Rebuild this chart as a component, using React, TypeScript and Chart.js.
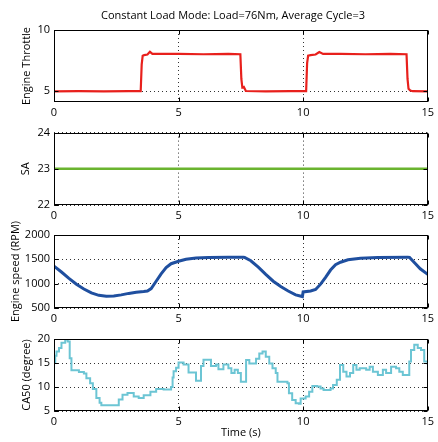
import React, { useEffect, useRef } from "react";
import { Chart, registerables } from "chart.js";

Chart.register(...registerables);

const FONT = "'Open Sans', 'DejaVu Sans', sans-serif";

// ---------------- data ----------------
const xTicks = [0, 5, 10, 15];

const throttleTime = [0, 1.0, 2.0, 3.0, 3.48, 3.52, 3.56, 3.62, 3.75, 3.85, 3.95, 4.2, 5.0, 6.0, 7.0, 7.48, 7.52, 7.56, 7.62, 7.7, 8.5, 9.5, 10.12, 10.16, 10.2, 10.3, 10.5, 10.65, 10.8, 11.5, 12.5, 13.5, 14.15, 14.19, 14.23, 14.3, 14.4, 15];
const throttle = [4.98, 5.0, 4.98, 5.0, 5.0, 7.2, 7.9, 7.95, 8.0, 8.22, 8.05, 8.05, 8.05, 8.02, 8.05, 8.02, 6.0, 5.3, 5.35, 5.02, 4.98, 5.0, 5.0, 7.3, 7.9, 7.95, 8.0, 8.2, 8.05, 8.05, 8.02, 8.05, 8.02, 6.0, 5.2, 5.05, 5.0, 4.98];
const throttleTicks = [5, 10];

const saTime = [0, 5, 10, 15];
const sa = [23, 23, 23, 23];
const saTicks = [22, 23, 24];

const rpmTime = [0, 0.3, 0.6, 0.9, 1.2, 1.5, 1.8, 2.1, 2.4, 2.7, 3.0, 3.3, 3.6, 3.75, 3.9, 4.1, 4.3, 4.5, 4.7, 5.0, 5.3, 5.7, 6.2, 7.0, 7.6, 7.65, 7.9, 8.2, 8.5, 8.8, 9.1, 9.4, 9.7, 9.97, 10.0, 10.3, 10.5, 10.7, 10.9, 11.1, 11.3, 11.5, 11.8, 12.3, 13.0, 14.2, 14.27, 14.5, 14.7, 15];
const rpm = [1360, 1240, 1110, 990, 890, 810, 760, 740, 745, 770, 800, 825, 840, 850, 900, 1050, 1200, 1330, 1410, 1460, 1500, 1525, 1540, 1545, 1545, 1540, 1470, 1340, 1190, 1050, 940, 850, 770, 735, 830, 850, 880, 990, 1130, 1280, 1390, 1440, 1490, 1520, 1540, 1545, 1540, 1415, 1305, 1190];
const rpmTicks = [500, 1000, 1500, 2000];

const caTime = [0, 0.05, 0.1, 0.2, 0.3, 0.45, 0.55, 0.63, 0.7, 1.0, 1.2, 1.3, 1.45, 1.56, 1.7, 1.83, 1.9, 2.6, 2.75, 2.95, 3.2, 3.4, 3.6, 3.87, 4.1, 4.4, 4.7, 4.76, 4.8, 4.9, 5.0, 5.2, 5.4, 5.7, 5.9, 6.0, 6.3, 6.5, 6.6, 6.8, 7.0, 7.12, 7.25, 7.38, 7.5, 7.71, 7.84, 8.11, 8.24, 8.37, 8.5, 8.64, 8.77, 8.9, 8.97, 9.37, 9.43, 9.56, 9.7, 9.83, 9.9, 10.1, 10.24, 10.37, 10.56, 10.7, 10.82, 11.1, 11.2, 11.35, 11.48, 11.61, 11.74, 11.88, 12.01, 12.14, 12.27, 12.53, 12.67, 12.8, 13.0, 13.2, 13.33, 13.53, 13.73, 13.86, 14.0, 14.26, 14.33, 14.46, 14.6, 14.73, 14.86, 15.0];
const ca50 = [15.1, 16.5, 17.4, 18.1, 19.2, 19.9, 19.5, 16.0, 13.5, 13.1, 12.8, 11.8, 10.8, 9.6, 7.7, 6.7, 6.2, 7.4, 8.4, 8.75, 8.0, 7.7, 8.3, 9.0, 9.6, 9.5, 10.0, 12.0, 13.3, 14.0, 15.1, 14.7, 13.0, 11.3, 14.4, 15.7, 14.4, 14.7, 13.7, 14.7, 13.9, 12.9, 13.6, 12.9, 11.1, 15.6, 14.9, 15.9, 17.0, 17.4, 16.3, 14.9, 13.9, 12.9, 11.1, 10.8, 8.7, 7.3, 6.6, 6.5, 7.6, 8.0, 9.0, 10.2, 10.1, 9.7, 9.4, 9.7, 10.4, 11.5, 14.6, 13.2, 12.2, 12.9, 14.6, 13.6, 13.9, 13.6, 14.2, 13.2, 12.5, 13.6, 12.9, 14.2, 13.9, 13.2, 12.5, 15.3, 17.7, 18.8, 18.1, 17.7, 15.3, 14.6];
const caTicks = [5, 10, 15, 20];

const chartTitle = "Constant Load Mode: Load=76Nm, Average Cycle=3";

// ---------------- helpers ----------------
const toPoints = (xs: number[], ys: number[]) => xs.map((x, i) => ({ x, y: ys[i] }));

const boxPlugin = {
  id: "matlabBox",
  afterDraw(chart: any) {
    const { ctx, chartArea: a, scales } = chart;
    const l = Math.round(a.left) + 0.5;
    const t = Math.round(a.top) + 0.5;
    const r = Math.round(a.right) - 0.5;
    const b = Math.round(a.bottom) - 0.5;
    ctx.save();
    ctx.setLineDash([]);
    ctx.strokeStyle = "#000";
    ctx.lineWidth = 1;
    ctx.strokeRect(l, t, r - l, b - t);
    ctx.beginPath();
    for (const tk of scales.x.ticks) {
      const px = Math.round(scales.x.getPixelForValue(tk.value)) + 0.5;
      ctx.moveTo(px, b);
      ctx.lineTo(px, b - 4);
      ctx.moveTo(px, t);
      ctx.lineTo(px, t + 4);
    }
    for (const tk of scales.y.ticks) {
      const py = Math.round(scales.y.getPixelForValue(tk.value)) + 0.5;
      ctx.moveTo(l, py);
      ctx.lineTo(l + 4, py);
      ctx.moveTo(r, py);
      ctx.lineTo(r - 4, py);
    }
    ctx.stroke();
    ctx.restore();
  },
};

type PanelCfg = {
  top: number;
  height: number;
  padTop: number;
  padLeft: number;
  yWidth: number;
  xHeight: number;
  yMin: number;
  yMax: number;
  yTicks: number[];
  yTitle: string;
  yTitlePad: number;
  xTitle?: string;
  title?: string;
  data: { x: number; y: number }[];
  color: string;
  width: number;
  stepped?: any;
};

function Panel({ cfg }: { cfg: PanelCfg }) {
  const ref = useRef<HTMLCanvasElement | null>(null);
  useEffect(() => {
    if (!ref.current) return;
    const font = { family: FONT, size: 11 };
    const chart = new Chart(ref.current, {
      type: "line",
      data: {
        datasets: [
          {
            data: cfg.data,
            borderColor: cfg.color,
            borderWidth: cfg.width,
            pointRadius: 0,
            tension: 0,
            stepped: cfg.stepped || false,
            fill: false,
          },
        ],
      },
      options: {
        animation: false,
        responsive: false,
        devicePixelRatio: 1,
        layout: { padding: { top: cfg.padTop, left: cfg.padLeft, right: 6, bottom: 0 } },
        plugins: {
          legend: { display: false },
          tooltip: { enabled: false },
          title: cfg.title
            ? {
                display: true,
                text: cfg.title,
                color: "#000",
                font: { family: FONT, size: 11, weight: "normal" },
                padding: { top: 9.4, bottom: 7.4 },
              }
            : { display: false },
        },
        scales: {
          x: {
            type: "linear",
            min: 0,
            max: 15,
            afterBuildTicks: (s: any) => {
              s.ticks = xTicks.map((v) => ({ value: v }));
            },
            afterFit: (s: any) => {
              s.height = cfg.xHeight;
            },
            grid: { color: "#333", lineWidth: 1, drawTicks: false },
            border: { display: false, dash: [1, 3] },
            ticks: { color: "#000", font, padding: 4, maxRotation: 0, autoSkip: false, callback: (v: any) => String(v) },
            title: cfg.xTitle
              ? { display: true, text: cfg.xTitle, color: "#000", font, padding: { top: 0, bottom: 2.4 } }
              : { display: false },
          },
          y: {
            type: "linear",
            min: cfg.yMin,
            max: cfg.yMax,
            afterBuildTicks: (s: any) => {
              s.ticks = cfg.yTicks.map((v) => ({ value: v }));
            },
            afterFit: (s: any) => {
              s.width = cfg.yWidth;
            },
            grid: { color: "#333", lineWidth: 1, drawTicks: false },
            border: { display: false, dash: [1, 3] },
            ticks: { color: "#000", font, padding: 4, callback: (v: any) => String(v) },
            title: { display: true, text: cfg.yTitle, color: "#000", font, padding: { top: cfg.yTitlePad, bottom: 0 } },
          },
        },
      },
      plugins: [boxPlugin],
    } as any);
    return () => chart.destroy();
  }, [cfg]);
  return (
    <canvas
      ref={ref}
      width={438}
      height={cfg.height}
      style={{ position: "absolute", left: 0, top: cfg.top, width: 438, height: cfg.height }}
    />
  );
}

const panels: PanelCfg[] = [
  {
    top: 0, height: 122, padTop: 0, padLeft: 34, yWidth: 20, xHeight: 20,
    yMin: 4.12, yMax: 10, yTicks: throttleTicks, yTitle: "Engine Throttle", yTitlePad: -13.6,
    title: chartTitle, data: toPoints(throttleTime, throttle), color: "#e8201c", width: 2.2,
  },
  {
    top: 122, height: 103, padTop: 10, padLeft: 0, yWidth: 54, xHeight: 20,
    yMin: 22, yMax: 24, yTicks: saTicks, yTitle: "SA", yTitlePad: 18.9,
    data: toPoints(saTime, sa), color: "#6ab42f", width: 2.5,
  },
  {
    top: 212, height: 116, padTop: 23, padLeft: 0, yWidth: 54, xHeight: 20,
    yMin: 500, yMax: 2000, yTicks: rpmTicks, yTitle: "Engine speed (RPM)", yTitlePad: 8.9,
    data: toPoints(rpmTime, rpm), color: "#1f4f9f", width: 3,
  },
  {
    top: 328, height: 114, padTop: 11, padLeft: 0, yWidth: 54, xHeight: 31,
    yMin: 5, yMax: 20, yTicks: caTicks, yTitle: "CA50 (degree)", yTitlePad: 20.4,
    xTitle: "Time (s)", data: toPoints(caTime, ca50), color: "#6cc5d4", width: 2, stepped: "before",
  },
];

export default function App() {
  return (
    <div
      style={{
        position: "fixed",
        left: 0,
        top: 0,
        width: 438,
        height: 442,
        background: "#fff",
        overflow: "hidden",
      }}
    >
      {panels.map((p, i) => (
        <Panel key={i} cfg={p} />
      ))}
    </div>
  );
}
